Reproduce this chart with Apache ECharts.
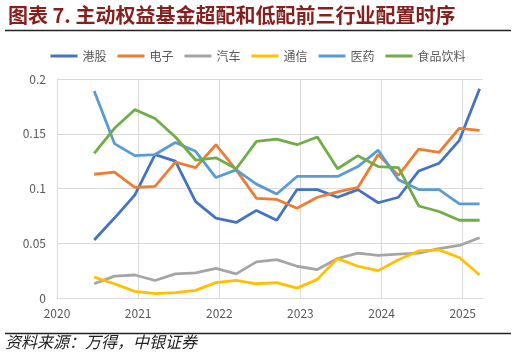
<!DOCTYPE html>
<html><head><meta charset="utf-8">
<script src="https://cdn.jsdelivr.net/npm/echarts@6/dist/echarts.min.js"></script>
<style>html,body{margin:0;padding:0;background:#fff}#c{width:516px;height:360px}</style>
</head><body><div id="c"></div>
<script>
// Quarter-end months of each observation
const dates = ['2020-06','2020-09','2020-12','2021-03','2021-06','2021-09','2021-12','2022-03','2022-06','2022-09',
               '2022-12','2023-03','2023-06','2023-09','2023-12','2024-03','2024-06','2024-09','2024-12','2025-03'];
const xTickLabels = ['2020','2021','2022','2023','2024','2025'];
const yTickLabels = ['0','0.05','0.1','0.15','0.2'];
const seriesNames = ['港股','电子','汽车','通信','医药','食品饮料'];
const hk     = [0.053,0.073,0.094,0.131,0.125,0.088,0.073,0.069,0.080,0.071,0.099,0.099,0.092,0.099,0.087,0.092,0.116,0.123,0.144,0.191];
const elec   = [0.113,0.115,0.101,0.102,0.124,0.119,0.140,0.117,0.091,0.090,0.082,0.092,0.097,0.101,0.131,0.112,0.136,0.133,0.155,0.153];
const auto   = [0.013,0.020,0.021,0.016,0.022,0.023,0.027,0.022,0.033,0.035,0.029,0.026,0.036,0.041,0.039,0.040,0.041,0.045,0.048,0.055];
const telecom= [0.019,0.013,0.006,0.004,0.005,0.007,0.014,0.016,0.013,0.014,0.009,0.017,0.036,0.029,0.025,0.035,0.043,0.044,0.037,0.021];
const pharma = [0.189,0.141,0.130,0.131,0.142,0.134,0.110,0.117,0.104,0.095,0.111,0.111,0.111,0.120,0.135,0.108,0.099,0.099,0.086,0.086];
const food   = [0.132,0.155,0.172,0.164,0.147,0.126,0.128,0.118,0.143,0.145,0.140,0.147,0.118,0.130,0.120,0.119,0.084,0.079,0.071,0.071];

const colors = ['#4472C4','#ED7D31','#A5A5A5','#FFC000','#5B9BD5','#70AD47'];
const values = [hk, elec, auto, telecom, pharma, food];

function toYear(d){ const p = d.split('-'); return +p[0] + (+p[1] - 0.5) / 12; }

const chart = echarts.init(document.getElementById('c'), null, {renderer:'canvas'});
const FONT = '"Noto Sans CJK SC","Noto Sans",sans-serif';
chart.setOption({
  animation:false,
  textStyle:{fontFamily:FONT},
  color: colors,
  legend:{
    top:45, left:'center', itemWidth:27, itemHeight:3, itemGap:11,
    icon:'rect',
    textStyle:{fontSize:12, color:'#595959', fontFamily:FONT},
    data: seriesNames
  },
  grid:{left:57, right:33, top:79, bottom:62, containLabel:false},
  xAxis:{
    type:'value', min:2020, max:2025.25, interval:1,
    axisLine:{show:true, lineStyle:{color:'#D9D9D9', width:1}},
    axisTick:{show:false},
    axisLabel:{color:'#595959', fontSize:12, margin:9, showMaxLabel:false,
      formatter: v => { const i = Math.round(v) - 2020; return (Math.abs(v - Math.round(v)) < 1e-6 && xTickLabels[i]) ? xTickLabels[i] : ''; }},
    splitLine:{show:true, showMaxLine:false, showMinLine:true, lineStyle:{color:'#D9D9D9', width:1}}
  },
  yAxis:{
    type:'value', min:0, max:0.2, interval:0.05,
    axisLine:{show:true, lineStyle:{color:'#D9D9D9', width:1}},
    axisTick:{show:false},
    axisLabel:{color:'#595959', fontSize:12, margin:11,
      formatter: v => yTickLabels[Math.round(v / 0.05)]},
    splitLine:{show:true, lineStyle:{color:'#D9D9D9', width:1}}
  },
  series: seriesNames.map((n, k) => ({
    name:n, type:'line', symbol:'none', smooth:false,
    lineStyle:{width:2.8, color:colors[k]},
    itemStyle:{color:colors[k]},
    data: dates.map((d, i) => [toYear(d), values[k][i]])
  })),
  graphic:[
    {type:'text', left:8, top:5, style:{text:'图表 7. 主动权益基金超配和低配前三行业配置时序', fill:'#84201E', font:'bold 20px "Noto Sans CJK SC",sans-serif'}},
    {type:'line', shape:{x1:5, y1:30.5, x2:511, y2:30.5}, style:{stroke:'#222', lineWidth:1.5}},
    {type:'line', shape:{x1:5, y1:333.5, x2:511, y2:333.5}, style:{stroke:'#222', lineWidth:1.5}},
    {type:'text', left:5, top:334, style:{text:'资料来源：万得，中银证券', fill:'#222', font:'italic 16px "Noto Sans CJK SC",sans-serif'}}
  ]
});
</script></body></html>
